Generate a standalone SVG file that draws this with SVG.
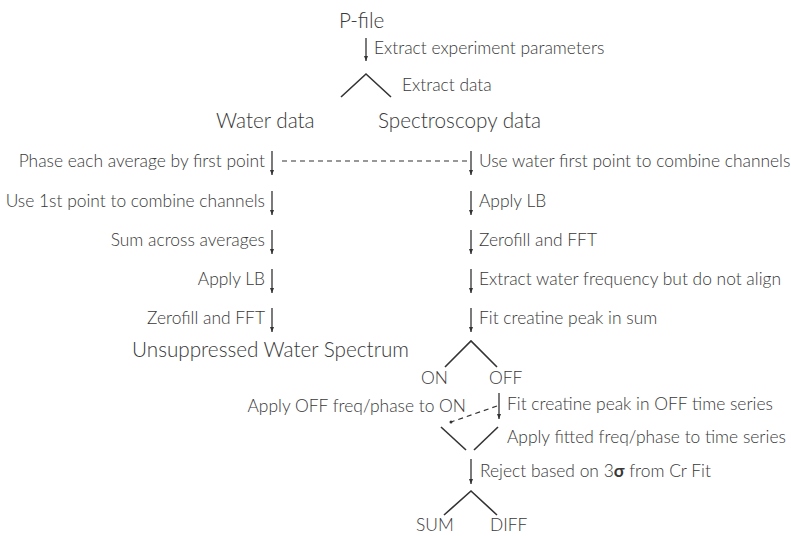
<svg xmlns="http://www.w3.org/2000/svg" width="791" height="536" viewBox="0 0 791 536">
<defs>
<marker id="ah" viewBox="0 0 5 4" refX="5" refY="2" markerWidth="5" markerHeight="4" markerUnits="userSpaceOnUse" orient="auto">
<path d="M0,0 L5,2 L0,4 Z" fill="#333"/>
</marker>
</defs>
<style>
text{font-family:Lato,"Open Sans","Liberation Sans",sans-serif;fill:#383838;font-weight:300}
.s{font-size:17.4px}
.l{font-size:20.7px}
.e{text-anchor:end}
.ln{stroke:#333;stroke-width:1.6;fill:none}
.ar{stroke:#333;stroke-width:1.3;fill:none;marker-end:url(#ah)}
.d{stroke:#333;stroke-width:1.2;fill:none;stroke-dasharray:5 4}
</style>
<rect width="791" height="536" fill="#fff"/>
<g id="connectors">
<line class="ar" x1="366" y1="38" x2="366" y2="61"/>
<polyline class="ln" points="341,97 366,74 391,97"/>
<line class="ar" x1="272" y1="151" x2="272" y2="175"/>
<line class="ar" x1="471" y1="151" x2="471" y2="175"/>
<line class="d" x1="282" y1="161" x2="468" y2="161"/>
<line class="ar" x1="272" y1="191" x2="272" y2="215"/>
<line class="ar" x1="471" y1="191" x2="471" y2="215"/>
<line class="ar" x1="272" y1="230" x2="272" y2="254"/>
<line class="ar" x1="471" y1="230" x2="471" y2="254"/>
<line class="ar" x1="272" y1="269" x2="272" y2="293"/>
<line class="ar" x1="471" y1="269" x2="471" y2="293"/>
<line class="ar" x1="272" y1="308" x2="272" y2="332"/>
<line class="ar" x1="471" y1="308" x2="471" y2="332"/>
<polyline class="ln" points="445,367 471,341 497,367"/>
<line class="ar" x1="499" y1="393" x2="499" y2="419"/>
<line class="d" x1="497" y1="406" x2="451" y2="422"/>
<circle cx="451" cy="422" r="1.5" fill="#333"/>
<line class="ln" x1="441" y1="427" x2="466" y2="450"/>
<line class="ln" x1="474" y1="450" x2="498" y2="427"/>
<line class="ar" x1="471" y1="459" x2="471" y2="484"/>
<polyline class="ln" points="444,515 471,491 497,515"/>
</g>
<g id="n-pfile"><text class="l" x="339" y="28">P-file</text></g>
<g id="l-params"><text class="s" x="374" y="54">Extract experiment parameters</text></g>
<g id="l-extract"><text class="s" x="402" y="91">Extract data</text></g>
<g id="n-water"><text class="l" x="216" y="128">Water data</text></g>
<g id="n-spec"><text class="l" x="378" y="128">Spectroscopy data</text></g>
<g id="w1"><text class="s e" x="265" y="167">Phase each average by first point</text></g>
<g id="w2"><text class="s e" x="265" y="207">Use 1st point to combine channels</text></g>
<g id="w3"><text class="s e" x="265" y="246">Sum across averages</text></g>
<g id="w4"><text class="s e" x="265" y="285">Apply LB</text></g>
<g id="w5"><text class="s e" x="265" y="324">Zerofill and FFT</text></g>
<g id="s1"><text class="s" x="479" y="167">Use water first point to combine channels</text></g>
<g id="s2"><text class="s" x="479" y="207">Apply LB</text></g>
<g id="s3"><text class="s" x="479" y="246">Zerofill and FFT</text></g>
<g id="s4"><text class="s" x="479" y="285">Extract water frequency but do not align</text></g>
<g id="s5"><text class="s" x="479" y="324">Fit creatine peak in sum</text></g>
<g id="n-unsup"><text class="l" x="132" y="357">Unsuppressed Water Spectrum</text></g>
<g id="n-on"><text class="s" x="421" y="384">ON</text></g>
<g id="n-off"><text class="s" x="489" y="384">OFF</text></g>
<g id="l-fitoff"><text class="s" x="507" y="410">Fit creatine peak in OFF time series</text></g>
<g id="l-applyoff"><text class="s e" x="466" y="412">Apply OFF freq/phase to ON</text></g>
<g id="l-applyfit"><text class="s" x="507" y="443">Apply fitted freq/phase to time series</text></g>
<g id="l-reject"><text class="s" x="480" y="477">Reject based on 3<tspan font-weight="700">σ</tspan> from Cr Fit</text></g>
<g id="n-sum"><text class="s" x="416" y="531">SUM</text></g>
<g id="n-diff"><text class="s" x="490" y="531">DIFF</text></g>
</svg>
